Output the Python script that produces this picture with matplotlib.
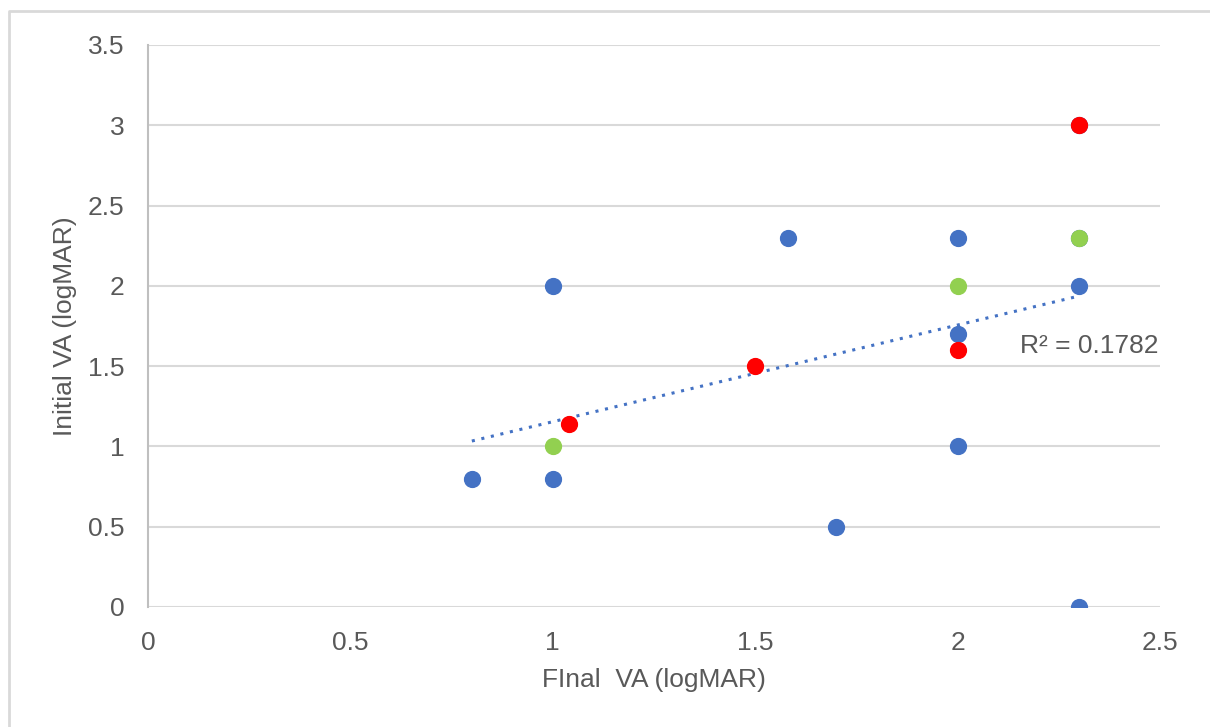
import matplotlib.pyplot as plt
from matplotlib.lines import Line2D

# values
blue_x = [0.8, 1.0, 1.0, 1.58, 1.7, 2.0, 2.0, 2.0, 2.3, 2.3, 2.3, 2.3]
blue_y = [0.8, 0.8, 2.0, 2.3, 0.5, 2.3, 1.7, 1.0, 2.0, 0.0, 2.3, 3.0]
green_x = [1.0, 2.0, 2.3]
green_y = [1.0, 2.0, 2.3]
red_x = [1.04, 1.5, 2.0, 2.3]
red_y = [1.14, 1.5, 1.6, 3.0]

# linear trendline
trend_slope = 0.602
trend_intercept = 0.552
trend_range = [0.8, 2.3]
r2_text = "R² = 0.1782"

x_ticks = [0, 0.5, 1, 1.5, 2, 2.5]
y_ticks = [0, 0.5, 1, 1.5, 2, 2.5, 3, 3.5]

plt.rcParams['font.family'] = ['Liberation Sans', 'DejaVu Sans']
text_color = '#595959'
fs = 19

fig = plt.figure(figsize=(12.1, 7.27), dpi=100)
ax = fig.add_axes([148 / 1210, 120 / 727, 1012 / 1210, 562 / 727])

# chart frame, only its left and top edges are inside the picture
fig.add_artist(Line2D([9 / 1210, 9 / 1210, 1], [0, 716 / 727, 716 / 727],
                      transform=fig.transFigure, color='#d9d9d9', linewidth=2))

ax.set_xlim(0, 2.5)
ax.set_ylim(0, 3.5)
ax.set_xticks(x_ticks)
ax.set_yticks(y_ticks)
ax.set_xticklabels([f"{t:g}" for t in x_ticks])
ax.set_yticklabels([f"{t:g}" for t in y_ticks])
ax.grid(axis='y', color='#d9d9d9', linewidth=1.5)
ax.set_axisbelow(True)
for side in ['top', 'right', 'bottom']:
    ax.spines[side].set_visible(False)
ax.spines['left'].set_color('#bfbfbf')
ax.spines['left'].set_linewidth(1.5)
ax.tick_params(length=0, labelsize=fs, colors=text_color, pad=17)

ax.scatter(blue_x, blue_y, s=130, color='#4472C4', zorder=3)
ax.scatter(green_x, green_y, s=130, color='#92D050', zorder=4)
ax.scatter(red_x, red_y, s=130, color='#FF0000', zorder=4)

trend_y = [trend_slope * x + trend_intercept for x in trend_range]
ax.plot(trend_range, trend_y, linestyle=(0, (1, 2.2)), color='#4472C4',
        linewidth=2.2, zorder=2)
ax.text(2.154, 1.625, r2_text, fontsize=fs, color=text_color, va='center')

ax.set_xlabel("FInal  VA (logMAR)", fontsize=fs, color=text_color, va='center')
ax.set_ylabel("Initial VA (logMAR)", fontsize=fs, color=text_color, va='center')
ax.xaxis.set_label_coords(0.5, -0.13)
ax.yaxis.set_label_coords(-0.082, 0.5)

fig.savefig("out.png", dpi=100)
